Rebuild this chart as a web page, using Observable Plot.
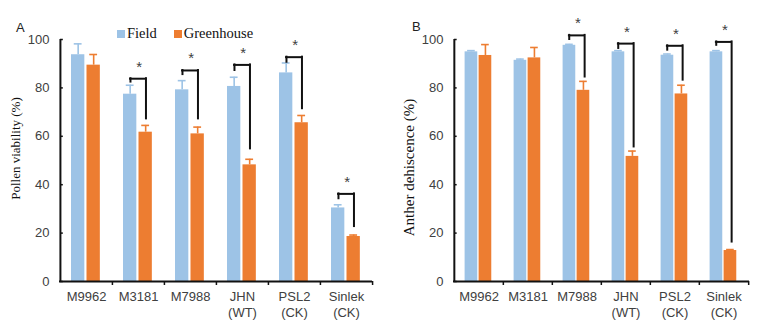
<!DOCTYPE html>
<html>
<head>
<meta charset="utf-8">
<script src="https://cdn.jsdelivr.net/npm/d3@7"></script>
<script src="https://cdn.jsdelivr.net/npm/@observablehq/plot@0.6"></script>
<style>
  html, body { margin: 0; padding: 0; background: #fff; }
  #wrap { position: relative; width: 764px; height: 323px; overflow: hidden; }
  .panel { position: absolute; top: 0; }
  .tag { position: absolute; font-family: "Liberation Sans", Arial, sans-serif; font-size: 13px; color: #222; line-height: 1; }
  .legend { position: absolute; left: 117px; top: 25px; font-family: "Liberation Serif", "Times New Roman", serif; font-size: 14.5px; color: #111; display: flex; align-items: center; white-space: nowrap; }
  .sw { display: inline-block; width: 8px; height: 8px; margin-right: 2px; }
</style>
</head>
<body>
<div id="wrap">
  <div id="left" class="panel" style="left:0"></div>
  <div id="right" class="panel" style="left:380px"></div>
  <div class="tag" style="left:16px; top:21px">A</div>
  <div class="tag" style="left:412px; top:20px">B</div>
  <div class="legend">
    <span class="sw" style="background:#9DC3E6"></span><span style="margin-right:17px">Field</span>
    <span class="sw" style="background:#ED7D31"></span><span>Greenhouse</span>
  </div>
</div>
<script>
const categories = ["M9962", "M3181", "M7988", "JHN\n(WT)", "PSL2\n(CK)", "Sinlek\n(CK)"];
const seriesNames = ["Field", "Greenhouse"];
const yTicks = [0, 20, 40, 60, 80, 100];

// Panel A: Pollen viability (%)
const pollenField = [93.7, 77.4, 79.2, 80.6, 86.2, 30.4];
const pollenFieldErr = [4.5, 3.7, 3.8, 3.8, 4.1, 1.3];
const pollenGreenhouse = [89.4, 61.7, 61.0, 48.2, 65.6, 18.6];
const pollenGreenhouseErr = [4.4, 2.8, 2.8, 2.3, 3.0, 0.6];
const pollenBracketTop = [null, 83.8, 87.2, 89.5, 92.7, 36.2];
const pollenBracketLeft = [null, 82.4, 85.5, 87.2, 90.6, 34.2];
const pollenBracketRight = [null, 67.2, 67.2, 54.8, 71.4, 22.7];

// Panel B: Anther dehiscence (%)
const antherField = [94.9, 91.4, 97.6, 94.9, 93.5, 94.9];
const antherFieldErr = [0.5, 0.5, 0.4, 0.5, 0.5, 0.5];
const antherGreenhouse = [93.4, 92.4, 79.0, 51.7, 77.5, 12.8];
const antherGreenhouseErr = [4.5, 4.3, 3.7, 2.2, 3.6, 0.4];
const antherBracketTop = [null, null, 101.7, 98.3, 97.4, 99.0];
const antherBracketLeft = [null, null, 100.0, 96.3, 95.6, 97.6];
const antherBracketRight = [null, null, 84.5, 55.6, 83.2, 16.3];

const colors = {Field: "#9DC3E6", Greenhouse: "#ED7D31"};

function panel(cfg) {
  const rows = categories.map((c, i) => ({
    cat: c,
    f: cfg.field[i], fe: cfg.fieldErr[i],
    g: cfg.gh[i], ge: cfg.ghErr[i],
    bt: cfg.top[i], bl: cfg.left[i], br: cfg.right[i]
  }));
  const brackets = rows.filter(d => d.bt != null);
  const band = (cfg.width - cfg.ml - cfg.mr) / categories.length;
  const [f0, f1, g0, g1] = cfg.bars;
  const fc = (f0 + f1) / 2, gc = (g0 + g1) / 2;
  const cap = 4;
  const lc = fc + cfg.legShift[0], rc = gc + cfg.legShift[1];
  return Plot.plot({
    width: cfg.width, height: 323,
    marginLeft: cfg.ml, marginRight: cfg.mr, marginTop: 39, marginBottom: 42,
    style: {fontFamily: "'Liberation Sans', Arial, sans-serif", fontSize: "13px", color: "#404040", background: "transparent", overflow: "visible"},
    x: {domain: categories, padding: 0, axis: null},
    y: {domain: [0, 100], axis: null},
    marks: [
      Plot.barY(rows, {x: "cat", y: "f", fill: colors.Field, insetLeft: f0, insetRight: band - f1}),
      Plot.barY(rows, {x: "cat", y: "g", fill: colors.Greenhouse, insetLeft: g0, insetRight: band - g1}),
      Plot.ruleX(rows, {x: "cat", y1: "f", y2: d => d.f + d.fe, dx: fc - band / 2, stroke: colors.Field, strokeWidth: 1.6}),
      Plot.tickY(rows, {x: "cat", y: d => d.f + d.fe, insetLeft: fc - cap, insetRight: band - fc - cap, stroke: colors.Field, strokeWidth: 1.6}),
      Plot.ruleX(rows, {x: "cat", y1: "g", y2: d => d.g + d.ge, dx: gc - band / 2, stroke: colors.Greenhouse, strokeWidth: 1.6}),
      Plot.tickY(rows, {x: "cat", y: d => d.g + d.ge, insetLeft: gc - cap, insetRight: band - gc - cap, stroke: colors.Greenhouse, strokeWidth: 1.6}),
      // significance brackets
      Plot.ruleX(brackets, {x: "cat", y1: "bl", y2: "bt", dx: lc - band / 2, stroke: "#111", strokeWidth: 2, strokeLinecap: "square"}),
      Plot.tickY(brackets, {x: "cat", y: "bt", insetLeft: lc, insetRight: band - rc, stroke: "#111", strokeWidth: 2, strokeLinecap: "square"}),
      Plot.ruleX(brackets, {x: "cat", y1: "br", y2: "bt", dx: rc - band / 2, stroke: "#111", strokeWidth: 2, strokeLinecap: "square"}),
      Plot.text(brackets, {x: "cat", y: "bt", text: () => "*", dx: (lc + rc) / 2 - band / 2 + 1, dy: -7, fontSize: 15, fill: "#404040", lineAnchor: "bottom"}),
      // axes
      Plot.ruleY([0], {stroke: "#111", strokeWidth: 2}),
      Plot.ruleX([categories[0]], {dx: -band / 2, stroke: "#111", strokeWidth: 2}),
      Plot.ruleX(categories.slice(1), {x: d => d, y1: 0, y2: 0, insetBottom: -4, dx: -band / 2, stroke: "#111", strokeWidth: 1.5}),
      Plot.ruleX([categories[categories.length - 1]], {y1: 0, y2: 0, insetBottom: -4, dx: band / 2, stroke: "#111", strokeWidth: 1.5}),
      Plot.tickY(yTicks, {y: d => d, x: () => categories[0], insetLeft: 0, insetRight: band - 3, stroke: "#111", strokeWidth: 1.5}),
      Plot.text(yTicks, {y: d => d, text: d => String(d), frameAnchor: "left", textAnchor: "end", dx: -10, fontSize: 13, fill: "#404040"}),
      Plot.text(categories, {x: d => d, text: d => d, frameAnchor: "bottom", lineAnchor: "top", dy: 8, lineHeight: 1.23, fontSize: 13, fill: "#404040"}),
      Plot.text([cfg.label], {text: d => d, frameAnchor: "left", textAnchor: "middle", rotate: -90, dx: cfg.labelDx, dy: cfg.labelDy, fontFamily: "'Liberation Serif', 'Times New Roman', serif", fontSize: cfg.labelSize, fill: "#111"})
    ]
  });
}

document.getElementById("left").appendChild(panel({
  width: 380, ml: 59, mr: 8,
  field: pollenField, fieldErr: pollenFieldErr, gh: pollenGreenhouse, ghErr: pollenGreenhouseErr,
  top: pollenBracketTop, left: pollenBracketLeft, right: pollenBracketRight,
  bars: [11, 24.5, 26.5, 40], legShift: [0.3, 0.3],
  label: "Pollen viability (%)", labelDx: -44, labelDy: -12, labelSize: 13
}));
document.getElementById("right").appendChild(panel({
  width: 384, ml: 73, mr: 15,
  field: antherField, fieldErr: antherFieldErr, gh: antherGreenhouse, ghErr: antherGreenhouseErr,
  top: antherBracketTop, left: antherBracketLeft, right: antherBracketRight,
  bars: [10.6, 23.6, 24.6, 37.6], legShift: [-0.2, 1.2],
  label: "Anther dehiscence (%)", labelDx: -44, labelDy: 7, labelSize: 15
}));
</script>
</body>
</html>
